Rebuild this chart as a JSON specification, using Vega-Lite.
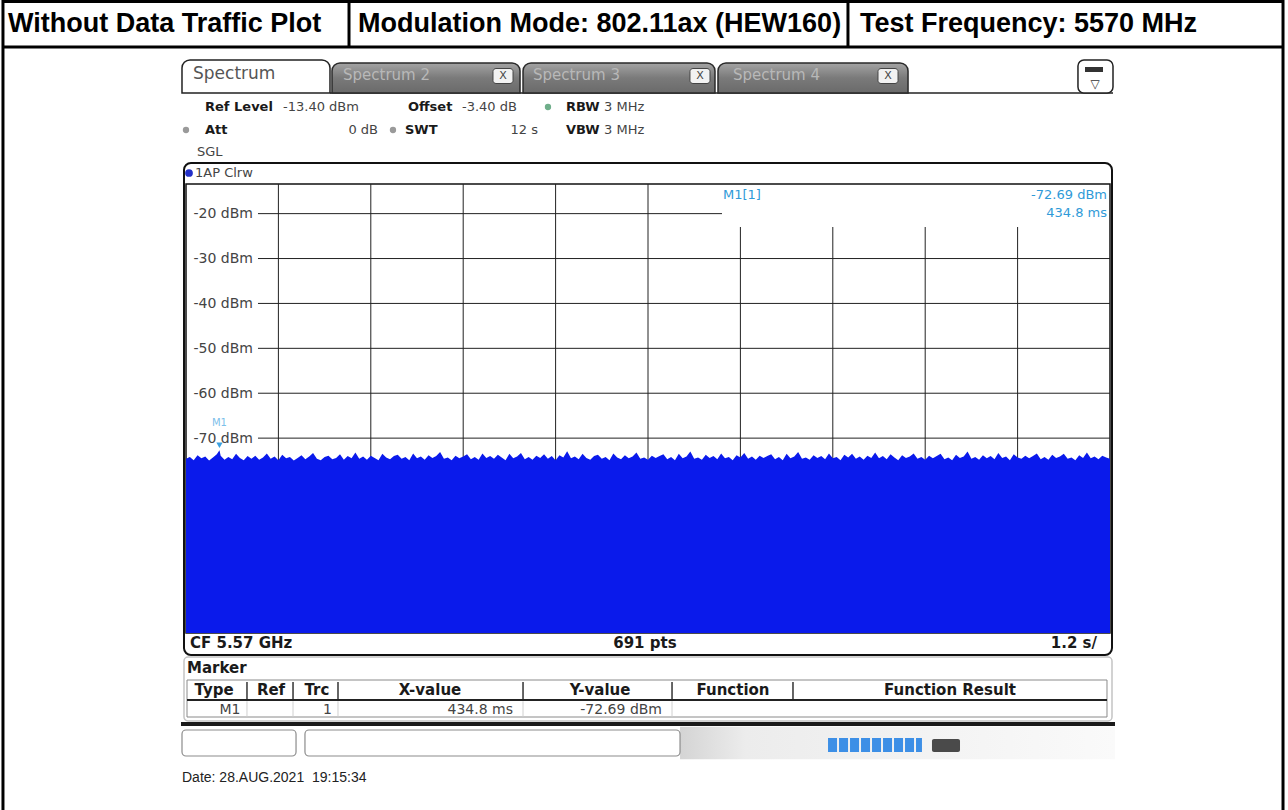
{
 "$schema": "https://vega.github.io/schema/vega-lite/v6.json",
 "width": 924,
 "height": 449,
 "autosize": {"type": "none"},
 "padding": {"left": 186, "top": 184, "right": 178, "bottom": 177},
 "background": "#ffffff",
 "config": {
  "view": {"stroke": "#111111", "strokeWidth": 1.5},
  "axisX": {"disable": true},
  "style": {
   "hdr": {"font": "Liberation Sans", "fontSize": 27, "fontWeight": "bold", "color": "#000000", "fill": "#000000", "align": "left", "baseline": "middle"},
   "rs": {"font": "DejaVu Sans", "fontSize": 13, "color": "#444444", "fill": "#444444", "align": "left", "baseline": "middle"},
   "rsb": {"font": "DejaVu Sans", "fontSize": 13, "fontWeight": "bold", "color": "#1a1a1a", "fill": "#1a1a1a", "align": "left", "baseline": "middle"},
   "mk": {"font": "DejaVu Sans", "fontSize": 13, "color": "#2f9ad8", "fill": "#2f9ad8", "align": "left", "baseline": "middle"},
   "tabt": {"font": "DejaVu Sans", "fontSize": 15, "color": "#b8b8b8", "fill": "#b8b8b8", "align": "left", "baseline": "middle"}
  }
 },
 "layer": [
  {
   "data": {"values": [
    {"lvl": -20, "from": 0.935, "to": 6.961},
    {"lvl": -30, "from": 0.935, "to": 12},
    {"lvl": -40, "from": 0.935, "to": 12},
    {"lvl": -50, "from": 0.935, "to": 12},
    {"lvl": -60, "from": 0.935, "to": 12},
    {"lvl": -70, "from": 0.935, "to": 12}
   ]},
   "mark": {"type": "rule", "color": "#222222", "strokeWidth": 1},
   "encoding": {
    "x": {"field": "from", "type": "quantitative", "title": null, "scale": {"domain": [0, 12], "nice": false, "zero": false}},
    "x2": {"field": "to"},
    "y": {"field": "lvl", "type": "quantitative", "title": null,
     "scale": {"domain": [-113.4, -13.4], "nice": false, "zero": false},
     "axis": {"orient": "left", "values": [-20, -30, -40, -50, -60, -70], "labelExpr": "datum.value + ' dBm'", "ticks": false, "tickSize": 0, "domain": false, "grid": false, "labelAlign": "left", "labelBaseline": "middle", "labelPadding": -7, "labelFont": "DejaVu Sans", "labelFontSize": 14, "labelColor": "#444444", "zindex": 1}}
   }
  },
  {
   "data": {"values": [
    {"t": 1.2, "top": -13.4}, {"t": 2.4, "top": -13.4}, {"t": 3.6, "top": -13.4}, {"t": 4.8, "top": -13.4}, {"t": 6.0, "top": -13.4},
    {"t": 7.2, "top": -22.98}, {"t": 8.4, "top": -22.98}, {"t": 9.6, "top": -22.98}, {"t": 10.8, "top": -22.98}
   ]},
   "mark": {"type": "rule", "color": "#222222", "strokeWidth": 1},
   "encoding": {
    "x": {"field": "t", "type": "quantitative", "title": null},
    "y": {"field": "top", "type": "quantitative", "title": null},
    "y2": {"datum": -113.4}
   }
  },
  {
   "data": {"values": [
    {"t":0.00,"v":-74.6},{"t":0.05,"v":-74.2},{"t":0.10,"v":-74.9},{"t":0.15,"v":-73.8},{"t":0.20,"v":-74.5},{"t":0.25,"v":-74.1},{"t":0.30,"v":-75.0},{"t":0.35,"v":-74.3},{"t":0.40,"v":-73.6},{"t":0.4348,"v":-72.69},{"t":0.45,"v":-73.9},
    {"t":0.50,"v":-74.8},{"t":0.55,"v":-74.2},{"t":0.60,"v":-74.7},{"t":0.65,"v":-73.5},{"t":0.70,"v":-74.4},{"t":0.75,"v":-74.9},{"t":0.80,"v":-74.0},{"t":0.85,"v":-74.6},{"t":0.90,"v":-73.9},{"t":0.95,"v":-74.8},
    {"t":1.00,"v":-74.3},{"t":1.05,"v":-73.4},{"t":1.10,"v":-74.6},{"t":1.15,"v":-74.1},{"t":1.20,"v":-74.9},{"t":1.25,"v":-73.7},{"t":1.30,"v":-74.5},{"t":1.35,"v":-74.2},{"t":1.40,"v":-75.0},{"t":1.45,"v":-74.4},
    {"t":1.50,"v":-73.8},{"t":1.55,"v":-74.7},{"t":1.60,"v":-74.1},{"t":1.65,"v":-73.3},{"t":1.70,"v":-74.6},{"t":1.75,"v":-74.9},{"t":1.80,"v":-74.2},{"t":1.85,"v":-73.9},{"t":1.90,"v":-74.7},{"t":1.95,"v":-74.4},
    {"t":2.00,"v":-73.6},{"t":2.05,"v":-74.8},{"t":2.10,"v":-74.0},{"t":2.15,"v":-74.5},{"t":2.20,"v":-73.2},{"t":2.25,"v":-74.6},{"t":2.30,"v":-74.1},{"t":2.35,"v":-74.8},{"t":2.40,"v":-73.9},{"t":2.45,"v":-74.4},
    {"t":2.50,"v":-74.9},{"t":2.55,"v":-73.5},{"t":2.60,"v":-74.3},{"t":2.65,"v":-74.7},{"t":2.70,"v":-74.0},{"t":2.75,"v":-73.7},{"t":2.80,"v":-74.6},{"t":2.85,"v":-74.2},{"t":2.90,"v":-74.9},{"t":2.95,"v":-73.4},
    {"t":3.00,"v":-74.5},{"t":3.05,"v":-74.1},{"t":3.10,"v":-74.8},{"t":3.15,"v":-73.8},{"t":3.20,"v":-74.4},{"t":3.25,"v":-74.0},{"t":3.30,"v":-73.1},{"t":3.35,"v":-74.6},{"t":3.40,"v":-74.3},{"t":3.45,"v":-74.9},
    {"t":3.50,"v":-73.9},{"t":3.55,"v":-74.5},{"t":3.60,"v":-74.1},{"t":3.65,"v":-73.6},{"t":3.70,"v":-74.7},{"t":3.75,"v":-74.2},{"t":3.80,"v":-74.8},{"t":3.85,"v":-73.4},{"t":3.90,"v":-74.4},{"t":3.95,"v":-74.0},
    {"t":4.00,"v":-74.6},{"t":4.05,"v":-73.7},{"t":4.10,"v":-74.3},{"t":4.15,"v":-74.9},{"t":4.20,"v":-73.5},{"t":4.25,"v":-74.5},{"t":4.30,"v":-74.1},{"t":4.35,"v":-73.3},{"t":4.40,"v":-74.7},{"t":4.45,"v":-74.2},
    {"t":4.50,"v":-74.8},{"t":4.55,"v":-73.9},{"t":4.60,"v":-74.4},{"t":4.65,"v":-73.6},{"t":4.70,"v":-74.6},{"t":4.75,"v":-74.0},{"t":4.80,"v":-74.9},{"t":4.85,"v":-73.8},{"t":4.90,"v":-74.3},{"t":4.95,"v":-72.9},
    {"t":5.00,"v":-74.5},{"t":5.05,"v":-74.1},{"t":5.10,"v":-74.7},{"t":5.15,"v":-73.5},{"t":5.20,"v":-74.4},{"t":5.25,"v":-74.8},{"t":5.30,"v":-74.0},{"t":5.35,"v":-73.7},{"t":5.40,"v":-74.6},{"t":5.45,"v":-74.2},
    {"t":5.50,"v":-74.9},{"t":5.55,"v":-73.4},{"t":5.60,"v":-74.3},{"t":5.65,"v":-74.7},{"t":5.70,"v":-73.8},{"t":5.75,"v":-74.5},{"t":5.80,"v":-74.1},{"t":5.85,"v":-73.2},{"t":5.90,"v":-74.6},{"t":5.95,"v":-74.3},
    {"t":6.00,"v":-74.8},{"t":6.05,"v":-73.9},{"t":6.10,"v":-74.4},{"t":6.15,"v":-74.0},{"t":6.20,"v":-73.6},{"t":6.25,"v":-74.7},{"t":6.30,"v":-74.2},{"t":6.35,"v":-74.9},{"t":6.40,"v":-73.5},{"t":6.45,"v":-74.5},
    {"t":6.50,"v":-74.1},{"t":6.55,"v":-73.0},{"t":6.60,"v":-74.6},{"t":6.65,"v":-74.3},{"t":6.70,"v":-74.8},{"t":6.75,"v":-73.7},{"t":6.80,"v":-74.4},{"t":6.85,"v":-74.0},{"t":6.90,"v":-74.7},{"t":6.95,"v":-73.4},
    {"t":7.00,"v":-74.5},{"t":7.05,"v":-74.2},{"t":7.10,"v":-74.9},{"t":7.15,"v":-73.8},{"t":7.20,"v":-74.3},{"t":7.25,"v":-73.3},{"t":7.30,"v":-74.6},{"t":7.35,"v":-74.1},{"t":7.40,"v":-74.8},{"t":7.45,"v":-73.9},
    {"t":7.50,"v":-74.4},{"t":7.55,"v":-74.0},{"t":7.60,"v":-73.6},{"t":7.65,"v":-74.7},{"t":7.70,"v":-74.2},{"t":7.75,"v":-74.9},{"t":7.80,"v":-73.5},{"t":7.85,"v":-74.5},{"t":7.90,"v":-74.1},{"t":7.95,"v":-73.1},
    {"t":8.00,"v":-74.6},{"t":8.05,"v":-74.3},{"t":8.10,"v":-74.8},{"t":8.15,"v":-73.8},{"t":8.20,"v":-74.4},{"t":8.25,"v":-74.0},{"t":8.30,"v":-74.7},{"t":8.35,"v":-73.4},{"t":8.40,"v":-74.5},{"t":8.45,"v":-74.2},
    {"t":8.50,"v":-74.9},{"t":8.55,"v":-73.7},{"t":8.60,"v":-74.3},{"t":8.65,"v":-73.5},{"t":8.70,"v":-74.6},{"t":8.75,"v":-74.1},{"t":8.80,"v":-74.8},{"t":8.85,"v":-73.9},{"t":8.90,"v":-74.4},{"t":8.95,"v":-73.2},
    {"t":9.00,"v":-74.5},{"t":9.05,"v":-74.0},{"t":9.10,"v":-74.7},{"t":9.15,"v":-73.6},{"t":9.20,"v":-74.3},{"t":9.25,"v":-74.9},{"t":9.30,"v":-73.8},{"t":9.35,"v":-74.4},{"t":9.40,"v":-74.1},{"t":9.45,"v":-73.4},
    {"t":9.50,"v":-74.6},{"t":9.55,"v":-74.2},{"t":9.60,"v":-74.8},{"t":9.65,"v":-73.9},{"t":9.70,"v":-74.5},{"t":9.75,"v":-74.0},{"t":9.80,"v":-73.5},{"t":9.85,"v":-74.7},{"t":9.90,"v":-74.3},{"t":9.95,"v":-74.9},
    {"t":10.00,"v":-73.7},{"t":10.05,"v":-74.4},{"t":10.10,"v":-74.1},{"t":10.15,"v":-73.0},{"t":10.20,"v":-74.6},{"t":10.25,"v":-74.2},{"t":10.30,"v":-74.8},{"t":10.35,"v":-73.8},{"t":10.40,"v":-74.5},{"t":10.45,"v":-74.0},
    {"t":10.50,"v":-74.7},{"t":10.55,"v":-73.3},{"t":10.60,"v":-74.4},{"t":10.65,"v":-74.1},{"t":10.70,"v":-74.9},{"t":10.75,"v":-73.6},{"t":10.80,"v":-74.3},{"t":10.85,"v":-74.6},{"t":10.90,"v":-73.9},{"t":10.95,"v":-74.5},
    {"t":11.00,"v":-74.0},{"t":11.05,"v":-73.4},{"t":11.10,"v":-74.7},{"t":11.15,"v":-74.2},{"t":11.20,"v":-74.8},{"t":11.25,"v":-73.7},{"t":11.30,"v":-74.4},{"t":11.35,"v":-74.1},{"t":11.40,"v":-73.5},{"t":11.45,"v":-74.6},
    {"t":11.50,"v":-74.3},{"t":11.55,"v":-74.9},{"t":11.60,"v":-73.8},{"t":11.65,"v":-74.4},{"t":11.70,"v":-73.2},{"t":11.75,"v":-74.5},{"t":11.80,"v":-74.1},{"t":11.85,"v":-74.7},{"t":11.90,"v":-73.9},{"t":11.95,"v":-74.3},
    {"t":12.00,"v":-74.6}
   ]},
   "mark": {"type": "area", "color": "#0a1aeb", "opacity": 1},
   "encoding": {
    "x": {"field": "t", "type": "quantitative", "title": null},
    "y": {"field": "v", "type": "quantitative", "title": null},
    "y2": {"datum": -113.4}
   }
  },
  {
   "data": {"values": [{}]},
   "layer": [
    {"mark": {"type": "point", "shape": "triangle-down", "filled": true, "size": 40, "color": "#3aa0e0", "opacity": 1, "yOffset": -5}, "encoding": {"x": {"datum": 0.4348}, "y": {"datum": -72.69}}},
    {"mark": {"type": "text", "style": "mk", "fontSize": 10, "align": "center", "color": "#7cc0ea", "fill": "#7cc0ea", "text": "M1"}, "encoding": {"x": {"datum": 0.4348}, "y": {"datum": -66.6}}},
    {"mark": {"type": "text", "style": "mk", "text": "M1[1]"}, "encoding": {"x": {"datum": 6.974}, "y": {"datum": -15.85}}},
    {"mark": {"type": "text", "style": "mk", "align": "right", "text": "-72.69 dBm"}, "encoding": {"x": {"datum": 11.961}, "y": {"datum": -15.85}}},
    {"mark": {"type": "text", "style": "mk", "align": "right", "text": "434.8 ms"}, "encoding": {"x": {"datum": 11.961}, "y": {"datum": -19.86}}},

    {"mark": {"type": "rect", "fill": null, "fillOpacity": 0, "stroke": "#111111", "strokeWidth": 2, "cornerRadius": 7}, "encoding": {"x": {"datum": -0.026}, "x2": {"datum": 12.026}, "y": {"datum": -8.72}, "y2": {"datum": -118.3}}},
    {"mark": {"type": "point", "filled": true, "size": 60, "color": "#2430c8", "opacity": 1}, "encoding": {"x": {"datum": 0.039}, "y": {"datum": -10.95}}},
    {"mark": {"type": "text", "style": "rs", "fontSize": 13, "text": "1AP Clrw"}, "encoding": {"x": {"datum": 0.117}, "y": {"datum": -10.95}}},

    {"mark": {"type": "text", "style": "rsb", "fontSize": 15, "text": "CF 5.57 GHz"}, "encoding": {"x": {"datum": 0.052}, "y": {"datum": -115.63}}},
    {"mark": {"type": "text", "style": "rsb", "fontSize": 15, "align": "center", "text": "691 pts"}, "encoding": {"x": {"datum": 5.96}, "y": {"datum": -115.63}}},
    {"mark": {"type": "text", "style": "rsb", "fontSize": 15, "align": "right", "text": "1.2 s/"}, "encoding": {"x": {"datum": 11.831}, "y": {"datum": -115.63}}},

    {"mark": {"type": "rule", "color": "#000000", "strokeWidth": 3}, "encoding": {"x": {"datum": -2.377}, "x2": {"datum": 14.247}, "y": {"datum": 27.25}}},
    {"mark": {"type": "rule", "color": "#000000", "strokeWidth": 3}, "encoding": {"x": {"datum": -2.377}, "x2": {"datum": 14.247}, "y": {"datum": 17.11}}},
    {"mark": {"type": "rule", "color": "#000000", "strokeWidth": 3}, "encoding": {"x": {"datum": -2.377}, "y": {"datum": 27.58}, "y2": {"datum": -152.82}}},
    {"mark": {"type": "rule", "color": "#000000", "strokeWidth": 3}, "encoding": {"x": {"datum": 14.247}, "y": {"datum": 27.58}, "y2": {"datum": -152.82}}},
    {"mark": {"type": "rule", "color": "#000000", "strokeWidth": 3}, "encoding": {"x": {"datum": 2.117}, "y": {"datum": 27.25}, "y2": {"datum": 17.11}}},
    {"mark": {"type": "rule", "color": "#000000", "strokeWidth": 3}, "encoding": {"x": {"datum": 8.597}, "y": {"datum": 27.25}, "y2": {"datum": 17.11}}},
    {"mark": {"type": "text", "style": "hdr", "text": "Without Data Traffic Plot"}, "encoding": {"x": {"datum": -2.312}, "y": {"datum": 22.23}}},
    {"mark": {"type": "text", "style": "hdr", "text": "Modulation Mode: 802.11ax (HEW160)"}, "encoding": {"x": {"datum": 2.234}, "y": {"datum": 22.23}}},
    {"mark": {"type": "text", "style": "hdr", "text": "Test Frequency: 5570 MHz"}, "encoding": {"x": {"datum": 8.753}, "y": {"datum": 22.23}}},

    {"mark": {"type": "rule", "color": "#222222", "strokeWidth": 1.5}, "encoding": {"x": {"datum": 1.87}, "x2": {"datum": 12.039}, "y": {"datum": 6.87}}},
    {"mark": {"type": "rect", "fill": "#ffffff", "stroke": "#222222", "strokeWidth": 1.5, "cornerRadiusTopLeft": 8, "cornerRadiusTopRight": 8}, "encoding": {"x": {"datum": -0.052}, "x2": {"datum": 1.87}, "y": {"datum": 14.22}, "y2": {"datum": 6.87}}},
    {"mark": {"type": "rect", "fill": {"gradient": "linear", "x1": 0, "y1": 0, "x2": 0, "y2": 1, "stops": [{"offset": 0, "color": "#a4a4a4"}, {"offset": 0.5, "color": "#7a7a7a"}, {"offset": 1, "color": "#6a6a6a"}]}, "stroke": "#2a2a2a", "strokeWidth": 1.5, "cornerRadiusTopLeft": 8, "cornerRadiusTopRight": 8}, "encoding": {"x": {"datum": 1.896}, "x2": {"datum": 4.338}, "y": {"datum": 13.55}, "y2": {"datum": 6.87}}},
    {"mark": {"type": "rect", "fill": {"gradient": "linear", "x1": 0, "y1": 0, "x2": 0, "y2": 1, "stops": [{"offset": 0, "color": "#a4a4a4"}, {"offset": 0.5, "color": "#7a7a7a"}, {"offset": 1, "color": "#6a6a6a"}]}, "stroke": "#2a2a2a", "strokeWidth": 1.5, "cornerRadiusTopLeft": 8, "cornerRadiusTopRight": 8}, "encoding": {"x": {"datum": 4.377}, "x2": {"datum": 6.87}, "y": {"datum": 13.55}, "y2": {"datum": 6.87}}},
    {"mark": {"type": "rect", "fill": {"gradient": "linear", "x1": 0, "y1": 0, "x2": 0, "y2": 1, "stops": [{"offset": 0, "color": "#a4a4a4"}, {"offset": 0.5, "color": "#7a7a7a"}, {"offset": 1, "color": "#6a6a6a"}]}, "stroke": "#2a2a2a", "strokeWidth": 1.5, "cornerRadiusTopLeft": 8, "cornerRadiusTopRight": 8}, "encoding": {"x": {"datum": 6.909}, "x2": {"datum": 9.377}, "y": {"datum": 13.55}, "y2": {"datum": 6.87}}},
    {"mark": {"type": "text", "style": "rs", "fontSize": 17, "color": "#555555", "fill": "#555555", "text": "Spectrum"}, "encoding": {"x": {"datum": 0.091}, "y": {"datum": 11.1}}},
    {"mark": {"type": "text", "style": "tabt", "text": "Spectrum 2"}, "encoding": {"x": {"datum": 2.039}, "y": {"datum": 10.88}}},
    {"mark": {"type": "text", "style": "tabt", "text": "Spectrum 3"}, "encoding": {"x": {"datum": 4.506}, "y": {"datum": 10.88}}},
    {"mark": {"type": "text", "style": "tabt", "text": "Spectrum 4"}, "encoding": {"x": {"datum": 7.104}, "y": {"datum": 10.88}}},
    {"mark": {"type": "rect", "fill": "#f2f2f2", "stroke": "#444444", "strokeWidth": 1, "cornerRadius": 3}, "encoding": {"x": {"datum": 3.987}, "x2": {"datum": 4.247}, "y": {"datum": 12.32}, "y2": {"datum": 8.98}}},
    {"mark": {"type": "rect", "fill": "#f2f2f2", "stroke": "#444444", "strokeWidth": 1, "cornerRadius": 3}, "encoding": {"x": {"datum": 6.545}, "x2": {"datum": 6.805}, "y": {"datum": 12.32}, "y2": {"datum": 8.98}}},
    {"mark": {"type": "rect", "fill": "#f2f2f2", "stroke": "#444444", "strokeWidth": 1, "cornerRadius": 3}, "encoding": {"x": {"datum": 8.987}, "x2": {"datum": 9.247}, "y": {"datum": 12.32}, "y2": {"datum": 8.98}}},
    {"mark": {"type": "text", "style": "rs", "fontSize": 11, "align": "center", "text": "X"}, "encoding": {"x": {"datum": 4.117}, "y": {"datum": 10.65}}},
    {"mark": {"type": "text", "style": "rs", "fontSize": 11, "align": "center", "text": "X"}, "encoding": {"x": {"datum": 6.675}, "y": {"datum": 10.65}}},
    {"mark": {"type": "text", "style": "rs", "fontSize": 11, "align": "center", "text": "X"}, "encoding": {"x": {"datum": 9.117}, "y": {"datum": 10.65}}},
    {"mark": {"type": "rect", "fill": "#ffffff", "stroke": "#222222", "strokeWidth": 1.5, "cornerRadius": 6}, "encoding": {"x": {"datum": 11.584}, "x2": {"datum": 12.039}, "y": {"datum": 14.22}, "y2": {"datum": 6.87}}},
    {"mark": {"type": "rect", "fill": "#333333"}, "encoding": {"x": {"datum": 11.675}, "x2": {"datum": 11.909}, "y": {"datum": 12.66}, "y2": {"datum": 11.54}}},
    {"mark": {"type": "text", "style": "rs", "fontSize": 12, "align": "center", "color": "#333333", "fill": "#333333", "text": "▽"}, "encoding": {"x": {"datum": 11.805}, "y": {"datum": 8.87}}},

    {"mark": {"type": "text", "style": "rsb", "text": "Ref Level"}, "encoding": {"x": {"datum": 0.247}, "y": {"datum": 3.75}}},
    {"mark": {"type": "text", "style": "rs", "text": "-13.40 dBm"}, "encoding": {"x": {"datum": 1.26}, "y": {"datum": 3.75}}},
    {"mark": {"type": "text", "style": "rsb", "text": "Offset"}, "encoding": {"x": {"datum": 2.883}, "y": {"datum": 3.75}}},
    {"mark": {"type": "text", "style": "rs", "text": "-3.40 dB"}, "encoding": {"x": {"datum": 3.584}, "y": {"datum": 3.75}}},
    {"mark": {"type": "point", "filled": true, "size": 40, "color": "#6fae8a", "opacity": 1}, "encoding": {"x": {"datum": 4.701}, "y": {"datum": 3.75}}},
    {"mark": {"type": "text", "style": "rsb", "text": "RBW"}, "encoding": {"x": {"datum": 4.935}, "y": {"datum": 3.75}}},
    {"mark": {"type": "text", "style": "rs", "text": "3 MHz"}, "encoding": {"x": {"datum": 5.429}, "y": {"datum": 3.75}}},
    {"mark": {"type": "point", "filled": true, "size": 40, "color": "#9a9a9a", "opacity": 1}, "encoding": {"x": {"datum": 0.0}, "y": {"datum": -1.37}}},
    {"mark": {"type": "text", "style": "rsb", "text": "Att"}, "encoding": {"x": {"datum": 0.247}, "y": {"datum": -1.37}}},
    {"mark": {"type": "text", "style": "rs", "align": "right", "text": "0 dB"}, "encoding": {"x": {"datum": 2.494}, "y": {"datum": -1.37}}},
    {"mark": {"type": "point", "filled": true, "size": 40, "color": "#9a9a9a", "opacity": 1}, "encoding": {"x": {"datum": 2.688}, "y": {"datum": -1.37}}},
    {"mark": {"type": "text", "style": "rsb", "text": "SWT"}, "encoding": {"x": {"datum": 2.844}, "y": {"datum": -1.37}}},
    {"mark": {"type": "text", "style": "rs", "align": "right", "text": "12 s"}, "encoding": {"x": {"datum": 4.571}, "y": {"datum": -1.37}}},
    {"mark": {"type": "text", "style": "rsb", "text": "VBW"}, "encoding": {"x": {"datum": 4.935}, "y": {"datum": -1.37}}},
    {"mark": {"type": "text", "style": "rs", "text": "3 MHz"}, "encoding": {"x": {"datum": 5.429}, "y": {"datum": -1.37}}},
    {"mark": {"type": "text", "style": "rs", "text": "SGL"}, "encoding": {"x": {"datum": 0.143}, "y": {"datum": -6.27}}},

    {"mark": {"type": "rect", "fill": null, "fillOpacity": 0, "stroke": "#c4c4c4", "strokeWidth": 1.5, "cornerRadius": 4}, "encoding": {"x": {"datum": -0.026}, "x2": {"datum": 12.026}, "y": {"datum": -118.75}, "y2": {"datum": -133.0}}},
    {"mark": {"type": "text", "style": "rsb", "fontSize": 15, "text": "Marker"}, "encoding": {"x": {"datum": 0.013}, "y": {"datum": -121.19}}},
    {"mark": {"type": "rect", "fill": null, "fillOpacity": 0, "stroke": "#8a8a8a", "strokeWidth": 1}, "encoding": {"x": {"datum": 0.013}, "x2": {"datum": 11.961}, "y": {"datum": -123.87}, "y2": {"datum": -132.11}}},
    {"mark": {"type": "rule", "color": "#222222", "strokeWidth": 2}, "encoding": {"x": {"datum": 0.013}, "x2": {"datum": 11.961}, "y": {"datum": -128.33}}},
    {"mark": {"type": "rule", "color": "#333333", "strokeWidth": 1.5}, "encoding": {"x": {"datum": 0.792}, "y": {"datum": -124.3}, "y2": {"datum": -128.1}}},
    {"mark": {"type": "rule", "color": "#333333", "strokeWidth": 1.5}, "encoding": {"x": {"datum": 1.39}, "y": {"datum": -124.3}, "y2": {"datum": -128.1}}},
    {"mark": {"type": "rule", "color": "#333333", "strokeWidth": 1.5}, "encoding": {"x": {"datum": 1.974}, "y": {"datum": -124.3}, "y2": {"datum": -128.1}}},
    {"mark": {"type": "rule", "color": "#333333", "strokeWidth": 1.5}, "encoding": {"x": {"datum": 4.377}, "y": {"datum": -124.3}, "y2": {"datum": -128.1}}},
    {"mark": {"type": "rule", "color": "#333333", "strokeWidth": 1.5}, "encoding": {"x": {"datum": 6.312}, "y": {"datum": -124.3}, "y2": {"datum": -128.1}}},
    {"mark": {"type": "rule", "color": "#333333", "strokeWidth": 1.5}, "encoding": {"x": {"datum": 7.883}, "y": {"datum": -124.3}, "y2": {"datum": -128.1}}},
    {"mark": {"type": "rule", "color": "#d0d0d0", "strokeWidth": 1}, "encoding": {"x": {"datum": 0.792}, "y": {"datum": -128.6}, "y2": {"datum": -132.0}}},
    {"mark": {"type": "rule", "color": "#d0d0d0", "strokeWidth": 1}, "encoding": {"x": {"datum": 1.39}, "y": {"datum": -128.6}, "y2": {"datum": -132.0}}},
    {"mark": {"type": "rule", "color": "#d0d0d0", "strokeWidth": 1}, "encoding": {"x": {"datum": 1.974}, "y": {"datum": -128.6}, "y2": {"datum": -132.0}}},
    {"mark": {"type": "rule", "color": "#d0d0d0", "strokeWidth": 1}, "encoding": {"x": {"datum": 4.377}, "y": {"datum": -128.6}, "y2": {"datum": -132.0}}},
    {"mark": {"type": "rule", "color": "#d0d0d0", "strokeWidth": 1}, "encoding": {"x": {"datum": 6.312}, "y": {"datum": -128.6}, "y2": {"datum": -132.0}}},
    {"mark": {"type": "text", "style": "rsb", "fontSize": 15, "align": "center", "text": "Type"}, "encoding": {"x": {"datum": 0.364}, "y": {"datum": -126.09}}},
    {"mark": {"type": "text", "style": "rsb", "fontSize": 15, "align": "center", "text": "Ref"}, "encoding": {"x": {"datum": 1.104}, "y": {"datum": -126.09}}},
    {"mark": {"type": "text", "style": "rsb", "fontSize": 15, "align": "center", "text": "Trc"}, "encoding": {"x": {"datum": 1.701}, "y": {"datum": -126.09}}},
    {"mark": {"type": "text", "style": "rsb", "fontSize": 15, "align": "center", "text": "X-value"}, "encoding": {"x": {"datum": 3.169}, "y": {"datum": -126.09}}},
    {"mark": {"type": "text", "style": "rsb", "fontSize": 15, "align": "center", "text": "Y-value"}, "encoding": {"x": {"datum": 5.377}, "y": {"datum": -126.09}}},
    {"mark": {"type": "text", "style": "rsb", "fontSize": 15, "align": "center", "text": "Function"}, "encoding": {"x": {"datum": 7.104}, "y": {"datum": -126.09}}},
    {"mark": {"type": "text", "style": "rsb", "fontSize": 15, "align": "center", "text": "Function Result"}, "encoding": {"x": {"datum": 9.922}, "y": {"datum": -126.09}}},
    {"mark": {"type": "text", "style": "rs", "fontSize": 14, "align": "center", "text": "M1"}, "encoding": {"x": {"datum": 0.571}, "y": {"datum": -130.55}}},
    {"mark": {"type": "text", "style": "rs", "fontSize": 14, "align": "right", "text": "1"}, "encoding": {"x": {"datum": 1.896}, "y": {"datum": -130.55}}},
    {"mark": {"type": "text", "style": "rs", "fontSize": 14, "align": "right", "text": "434.8 ms"}, "encoding": {"x": {"datum": 4.247}, "y": {"datum": -130.55}}},
    {"mark": {"type": "text", "style": "rs", "fontSize": 14, "align": "right", "text": "-72.69 dBm"}, "encoding": {"x": {"datum": 6.182}, "y": {"datum": -130.55}}},

    {"mark": {"type": "rect", "fill": {"gradient": "linear", "x1": 0, "y1": 0, "x2": 1, "y2": 0, "stops": [{"offset": 0, "color": "#d4d4d4"}, {"offset": 0.15, "color": "#ececec"}, {"offset": 1, "color": "#fafafa"}]}}, "encoding": {"x": {"datum": 6.416}, "x2": {"datum": 12.065}, "y": {"datum": -134.3}, "y2": {"datum": -141.5}}},
    {"mark": {"type": "rule", "color": "#1a1a1a", "strokeWidth": 4}, "encoding": {"x": {"datum": -0.065}, "x2": {"datum": 12.065}, "y": {"datum": -133.68}}},
    {"mark": {"type": "rect", "fill": "#ffffff", "stroke": "#8c8c8c", "strokeWidth": 1.2, "cornerRadius": 4}, "encoding": {"x": {"datum": -0.052}, "x2": {"datum": 1.429}, "y": {"datum": -135.0}, "y2": {"datum": -140.79}}},
    {"mark": {"type": "rect", "fill": "#ffffff", "stroke": "#8c8c8c", "strokeWidth": 1.2, "cornerRadius": 4}, "encoding": {"x": {"datum": 1.545}, "x2": {"datum": 6.416}, "y": {"datum": -135.0}, "y2": {"datum": -140.79}}},
    {"mark": {"type": "rule", "color": "#3d8fe6", "strokeWidth": 14, "strokeDash": [9, 2], "strokeCap": "butt"}, "encoding": {"x": {"datum": 8.338}, "x2": {"datum": 9.558}, "y": {"datum": -138.34}}},
    {"mark": {"type": "rect", "fill": "#4a4a4a", "cornerRadius": 2}, "encoding": {"x": {"datum": 9.688}, "x2": {"datum": 10.052}, "y": {"datum": -137.0}, "y2": {"datum": -139.9}}},
    {"mark": {"type": "text", "font": "Liberation Sans", "fontSize": 14, "color": "#222222", "fill": "#222222", "align": "left", "baseline": "middle", "text": "Date: 28.AUG.2021\u00a0\u00a019:15:34"}, "encoding": {"x": {"datum": -0.052}, "y": {"datum": -145.69}}}
   ]
  }
 ]
}
